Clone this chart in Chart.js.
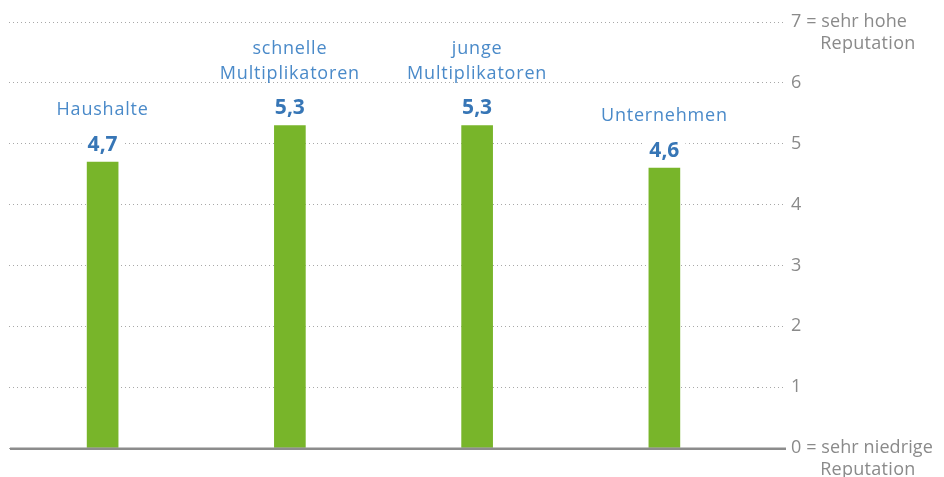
<!DOCTYPE html>
<html><head><meta charset="utf-8">
<script src="https://cdn.jsdelivr.net/npm/chart.js@4"></script>
<style>html,body{margin:0;padding:0;background:#fff}#wrap{width:944px;height:477px;position:relative}</style>
</head><body><div id="wrap"><canvas id="c"></canvas></div>
<script>
const categories = [['Haushalte'], ['schnelle', 'Multiplikatoren'], ['junge', 'Multiplikatoren'], ['Unternehmen']];
const values = [4.7, 5.3, 5.3, 4.6];
const valueLabels = ['4,7', '5,3', '5,3', '4,6'];
const tickLabels = ['0 = sehr niedrige', '1', '2', '3', '4', '5', '6', '7 = sehr hohe'];
const tickSubLabels = {0: 'Reputation', 7: 'Reputation'};

const FONT = '"Open Sans", sans-serif';
const TICK_LEN = 28;
const TICK_PAD = 5;

const labelPlugin = {
  id: 'labels',
  beforeDraw(chart) {
    chart.ctx.letterSpacing = '0.1px';
  },
  afterDatasetsDraw(chart) {
    const ctx = chart.ctx;
    const ys = chart.scales.y;
    const area = chart.chartArea;
    // baseline
    const y0 = ys.getPixelForValue(0);
    ctx.save();
    ctx.strokeStyle = '#8c8c8c';
    ctx.lineWidth = 2.5;
    ctx.beginPath();
    ctx.moveTo(area.left + 1, y0 + 0.8);
    ctx.lineTo(area.right + TICK_LEN, y0 + 0.8);
    ctx.stroke();
    ctx.restore();

    const meta = chart.getDatasetMeta(0);
    meta.data.forEach((bar, i) => {
      const x = bar.x, top = bar.y;
      ctx.save();
      ctx.textAlign = 'center';
      ctx.textBaseline = 'middle';
      ctx.letterSpacing = '0px';
      ctx.font = 'bold 21px ' + FONT;
      const w = ctx.measureText(valueLabels[i]).width;
      ctx.fillStyle = '#fff';
      ctx.fillRect(x - w / 2 - 6, top - 17 - 11, w + 12, 22);
      ctx.fillStyle = '#3776b6';
      ctx.fillText(valueLabels[i], x, top - 17);
      ctx.font = '18px ' + FONT;
      ctx.letterSpacing = '0.8px';
      ctx.fillStyle = '#4a8ac9';
      const lines = categories[i];
      lines.forEach((l, j) => {
        ctx.fillText(l, x, top - 52 - (lines.length - 1 - j) * 25);
      });
      ctx.restore();
    });
  },
  afterDraw(chart) {
    const ctx = chart.ctx;
    const ys = chart.scales.y;
    ctx.save();
    ctx.font = '18px ' + FONT;
    ctx.letterSpacing = '0.3px';
    ctx.fillStyle = '#8a8a8a';
    ctx.textAlign = 'left';
    ctx.textBaseline = 'middle';
    const lx = ys.left + TICK_LEN + TICK_PAD;
    Object.keys(tickSubLabels).forEach(k => {
      const v = Number(k);
      const prefix = tickLabels[v].split('sehr')[0];
      const off = ctx.measureText(prefix).width;
      ctx.fillText(tickSubLabels[k], lx + off - 2, ys.getPixelForValue(v) + 22);
    });
    ctx.restore();
  }
};

new Chart(document.getElementById('c'), {
  type: 'bar',
  data: {
    labels: categories,
    datasets: [{
      data: values,
      backgroundColor: '#78b52a',
      borderWidth: 0,
      barThickness: 31
    }]
  },
  options: {
    responsive: true,
    maintainAspectRatio: false,
    animation: false,
    layout: {padding: {left: 9, right: 0, top: 22, bottom: 29}},
    plugins: {legend: {display: false}, tooltip: {enabled: false}},
    scales: {
      x: {display: false, grid: {display: false}},
      y: {
        position: 'right',
        min: 0, max: 7,
        afterFit(scale) { scale.width = 944 - 758; },
        ticks: {
          stepSize: 1,
          padding: TICK_PAD,
          color: '#8a8a8a',
          font: {family: 'Open Sans', size: 18},
          callback: (v) => tickLabels[v]
        },
        grid: {
          color: '#a8a8a8',
          lineWidth: 1,
          drawTicks: true,
          tickLength: TICK_LEN,
          tickColor: '#a8a8a8',
          tickWidth: 1,
          tickBorderDash: [1, 3],
          borderDash: [1, 3]
        },
        border: {display: false, dash: [1, 3]}
      }
    }
  },
  plugins: [labelPlugin]
});
</script>
</body></html>
